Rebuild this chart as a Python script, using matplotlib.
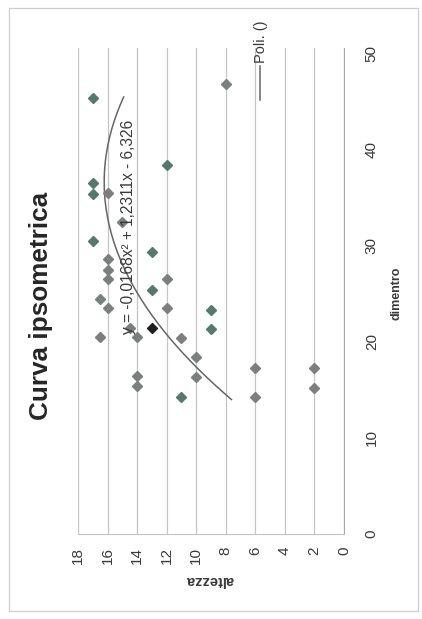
import numpy as np
import matplotlib.pyplot as plt
from matplotlib.lines import Line2D
from matplotlib.patches import Rectangle

# scanned chart is turned 90 deg: altezza runs along the page width, dimentro up the page
dim_green = [45.4, 38.4, 36.5, 35.4, 30.5, 29.4, 25.4, 23.3, 21.3, 14.3]
alt_green = [17, 12, 17, 17, 17, 13, 13, 9, 9, 11]

dim_grey = [46.9, 35.5, 32.5, 28.6, 27.5, 26.5, 26.5, 24.5, 23.5, 23.5, 21.4,
            20.5, 20.5, 20.4, 18.4, 17.3, 17.3, 16.4, 16.3, 15.4, 15.2, 14.3]
alt_grey = [8, 16, 15, 16, 16, 16, 12, 16.5, 16, 12, 14.5,
            16.5, 14, 11, 10, 6, 2, 14, 10, 14, 2, 6]

dim_black = [21.4]
alt_black = [13]

# trendline as printed on the chart
coef = [-0.0168, 1.2311, -6.326]
trend_from, trend_to = 14.0, 45.5

alt_ticks = list(range(0, 19, 2))
dim_ticks = list(range(0, 51, 10))

plt.rcParams['font.family'] = ['Liberation Sans', 'DejaVu Sans']

fig = plt.figure(figsize=(4.22, 6.19), dpi=100)
ax = fig.add_axes([78 / 422, 1 - 534 / 619, 266 / 422, 486 / 619])

xt = np.linspace(trend_from, trend_to, 200)
yt = np.polyval(coef, xt)
ax.plot(yt, xt, color='#666666', lw=1.1, zorder=2)

ax.plot(alt_grey, dim_grey, 'D', color='#7b7f7d', ms=5, zorder=3)
ax.plot(alt_green, dim_green, 'D', color='#557a6c', ms=5.5, zorder=3)
ax.plot(alt_black, dim_black, 'D', color='#1e1e1e', ms=5.5, zorder=3)

ax.set_xlim(18, 0)
ax.set_ylim(0, 50.6)
ax.set_xticks(alt_ticks)
ax.set_yticks(dim_ticks)
ax.yaxis.tick_right()
ax.tick_params(axis='x', length=0, pad=9, labelsize=11, labelcolor='#3a3a3a',
               labelrotation=90)
ax.tick_params(axis='y', length=0, pad=15, labelsize=11, labelcolor='#3a3a3a',
               labelrotation=90)
for lab in ax.get_yticklabels():
    lab.set_verticalalignment('center')

ax.grid(axis='x', color='#c4c4c4', lw=0.9)
ax.grid(axis='y', visible=False)
for s in ['top', 'left']:
    ax.spines[s].set_visible(False)
ax.spines['right'].set_color('#a8a8a8')
ax.spines['bottom'].set_color('#c4c4c4')

ax.text(14.6, 32.0, 'y = -0,0168x² + 1,2311x - 6,326', rotation=90,
        ha='center', va='center', fontsize=11.2, color='#3a3a3a', zorder=4)

fig.text(41 / 422, 1 - 306 / 619, 'Curva ipsometrica', rotation=90, ha='center',
         va='center', fontsize=18.8, fontweight='bold', color='#262626')
fig.text(210 / 422, 1 - 580 / 619, 'altezza', rotation=180, ha='center',
         va='center', fontsize=10.5, fontweight='bold', color='#3a3a3a')
fig.text(396 / 422, 1 - 293 / 619, 'dimentro', rotation=90, ha='center',
         va='center', fontsize=9, fontweight='bold', color='#3a3a3a')

# legend entry sitting over the upper right of the plot
fig.add_artist(Line2D([260 / 422, 260 / 422], [1 - 100 / 619, 1 - 66 / 619],
                      color='#666666', lw=1.1))
fig.text(261 / 422, 1 - 42 / 619, 'Poli. ()', rotation=90, ha='center',
         va='center', fontsize=10.5, color='#3a3a3a')

fig.add_artist(Rectangle((9 / 422, 1 - 611 / 619), 409 / 422, 603 / 619,
                         fill=False, ec='#cfcfcf', lw=0.9))

fig.savefig('out.png', dpi=100)
